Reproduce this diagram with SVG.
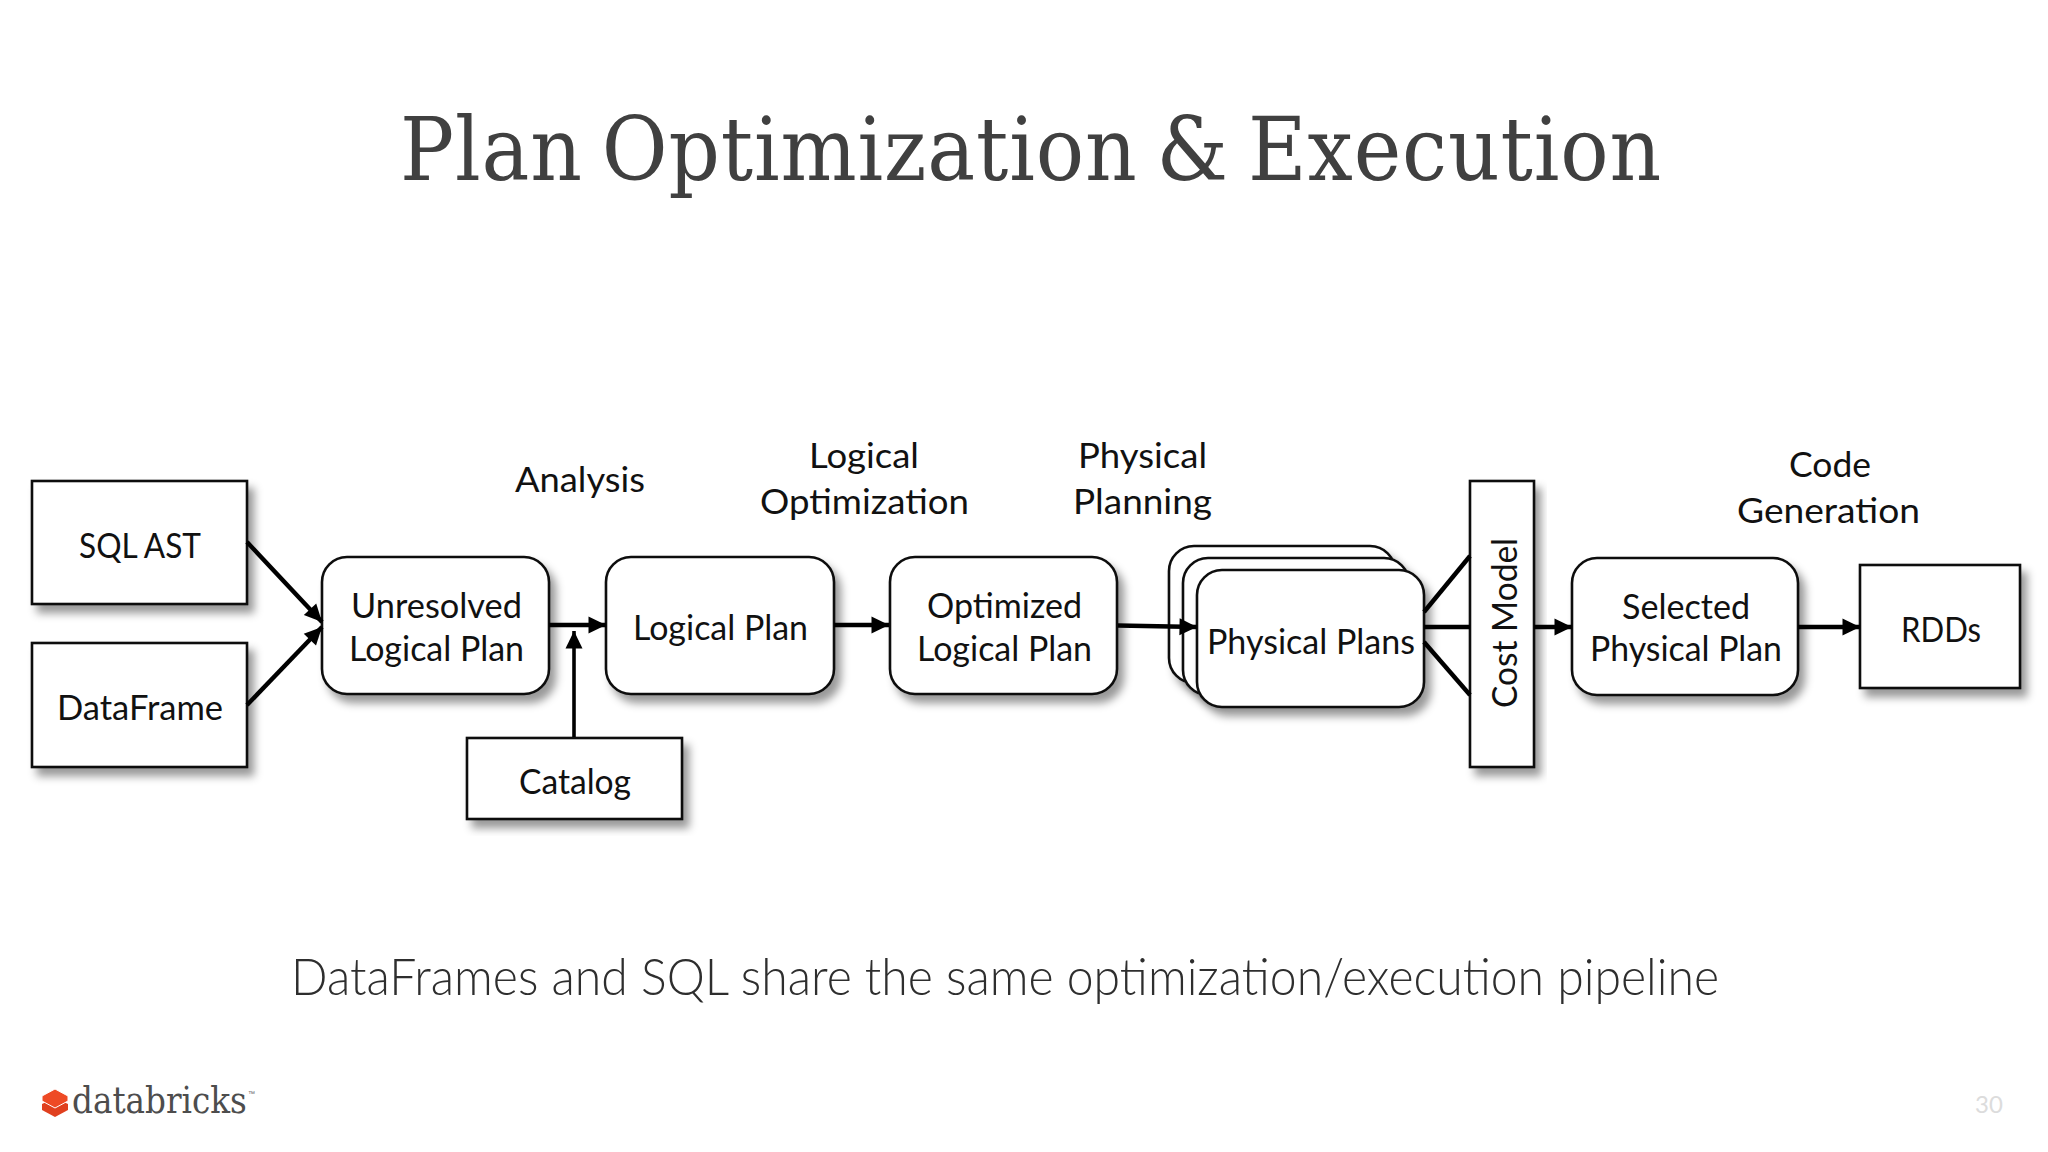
<svg xmlns="http://www.w3.org/2000/svg" width="2048" height="1152" viewBox="0 0 2048 1152">
<style>
.box{fill:#fff;stroke:#111;stroke-width:2.6;filter:url(#sh)}
.t{font-family:Lato,"Open Sans","Liberation Sans",sans-serif;font-size:35.5px;fill:#111}
.c{fill:none;stroke:#000;stroke-width:4.4}
</style>
<defs>
<filter id="sh" x="-15%" y="-15%" width="135%" height="135%"><feDropShadow dx="6" dy="8" stdDeviation="4.500" flood-color="#000" flood-opacity=".4"/></filter>
<marker id="a" markerUnits="userSpaceOnUse" markerWidth="20" markerHeight="20" refX="18.500" refY="10" orient="auto"><path d="M1 1.500L18.500 10L1 18.500z" fill="#000"/></marker>
</defs>
<rect width="2048" height="1152" fill="#fff"/>
<text x="400" y="180" textLength="1262" lengthAdjust="spacingAndGlyphs" style="font-family:'DejaVu Serif','Liberation Serif',serif;font-size:88px;fill:#404040;letter-spacing:.9px;word-spacing:-8px">Plan Optimization &amp; Execution</text>
<g id="sql-ast"><rect class="box" x="32" y="481" width="215" height="123"/><text class="t" x="79" y="558" textLength="122" lengthAdjust="spacingAndGlyphs">SQL AST</text></g>
<g id="dataframe"><rect class="box" x="32" y="643" width="215" height="124"/><text class="t" x="57" y="720" textLength="166" lengthAdjust="spacingAndGlyphs">DataFrame</text></g>
<g id="unresolved"><rect class="box" x="322" y="557" width="227" height="137" rx="25"/><text class="t" x="351" y="618" textLength="171" lengthAdjust="spacingAndGlyphs">Unresolved</text><text class="t" x="349" y="661" textLength="175" lengthAdjust="spacingAndGlyphs">Logical Plan</text></g>
<g id="logical-plan"><rect class="box" x="606" y="557" width="228" height="137" rx="25"/><text class="t" x="633" y="640" textLength="175" lengthAdjust="spacingAndGlyphs">Logical Plan</text></g>
<g id="catalog"><rect class="box" x="467" y="738" width="215" height="81"/><text class="t" x="519" y="794" textLength="112" lengthAdjust="spacingAndGlyphs">Catalog</text></g>
<g id="optimized"><rect class="box" x="890" y="557" width="227" height="137" rx="25"/><text class="t" x="927" y="618" textLength="155" lengthAdjust="spacingAndGlyphs">Optimized</text><text class="t" x="917" y="661" textLength="175" lengthAdjust="spacingAndGlyphs">Logical Plan</text></g>
<g id="physical-plans"><rect class="box" x="1169" y="546" width="226" height="137" rx="25"/><rect class="box" x="1183" y="558" width="226" height="137" rx="25"/><rect class="box" x="1197" y="570" width="227" height="137" rx="25"/><text class="t" x="1207" y="654" textLength="208" lengthAdjust="spacingAndGlyphs">Physical Plans</text></g>
<g id="cost-model"><rect class="box" x="1470" y="481" width="64" height="286"/><text class="t" transform="translate(1517 708) rotate(-90)" textLength="170" lengthAdjust="spacingAndGlyphs">Cost Model</text></g>
<g id="selected"><rect class="box" x="1572" y="558" width="226" height="137" rx="25"/><text class="t" x="1622" y="619" textLength="128" lengthAdjust="spacingAndGlyphs">Selected</text><text class="t" x="1590" y="661" textLength="192" lengthAdjust="spacingAndGlyphs">Physical Plan</text></g>
<g id="rdds"><rect class="box" x="1860" y="565" width="160" height="123"/><text class="t" x="1901" y="642" textLength="80" lengthAdjust="spacingAndGlyphs">RDDs</text></g>
<g id="connectors">
<path class="c" marker-end="url(#a)" d="M247 542L322 622"/>
<path class="c" marker-end="url(#a)" d="M247 705L322 627"/>
<path class="c" marker-end="url(#a)" d="M549 625H606"/>
<path class="c" style="stroke-width:3.6" marker-end="url(#a)" d="M574 737V631"/>
<path class="c" marker-end="url(#a)" d="M834 625H889"/>
<path class="c" marker-end="url(#a)" d="M1118 625.500L1197 627"/>
<path class="c" d="M1424 612L1470 556"/>
<path class="c" d="M1424 627H1470"/>
<path class="c" d="M1424 642L1470 695"/>
<path class="c" marker-end="url(#a)" d="M1534 627H1572"/>
<path class="c" marker-end="url(#a)" d="M1798 627H1860"/>
</g>
<g id="labels">
<text class="t" x="515" y="492" textLength="130" lengthAdjust="spacingAndGlyphs">Analysis</text>
<text class="t" x="809" y="468" textLength="110" lengthAdjust="spacingAndGlyphs">Logical</text>
<text class="t" x="760" y="514" textLength="209" lengthAdjust="spacingAndGlyphs">Optimization</text>
<text class="t" x="1078" y="468" textLength="129" lengthAdjust="spacingAndGlyphs">Physical</text>
<text class="t" x="1073" y="514" textLength="139" lengthAdjust="spacingAndGlyphs">Planning</text>
<text class="t" x="1789" y="477" textLength="82" lengthAdjust="spacingAndGlyphs">Code</text>
<text class="t" x="1737" y="523" textLength="183" lengthAdjust="spacingAndGlyphs">Generation</text>
</g>
<text x="291" y="995" textLength="1428" lengthAdjust="spacingAndGlyphs" style="font-family:Lato,'Open Sans',sans-serif;font-weight:300;font-size:52px;fill:#2e2e2e">DataFrames and SQL share the same optimization/execution pipeline</text>
<g id="logo">
<path d="M55 1098L68 1104V1110L55 1117L42 1110V1104z" fill="#e0401f"/>
<path d="M55 1089L68 1096V1101L55 1108L42 1101V1096z" fill="#ee4a25" stroke="#fff" stroke-width="1"/>
<text transform="translate(72 1113) scale(.86 1)" style="font-family:'DejaVu Serif',serif;font-size:38px;fill:#4d4d4d">databricks</text>
<text x="248" y="1096" style="font-family:'Liberation Sans',sans-serif;font-size:7px;fill:#666">™</text>
</g>
<text x="1975" y="1113" style="font-family:Lato,sans-serif;font-size:24px;fill:#dcdcdc">30</text>
</svg>
